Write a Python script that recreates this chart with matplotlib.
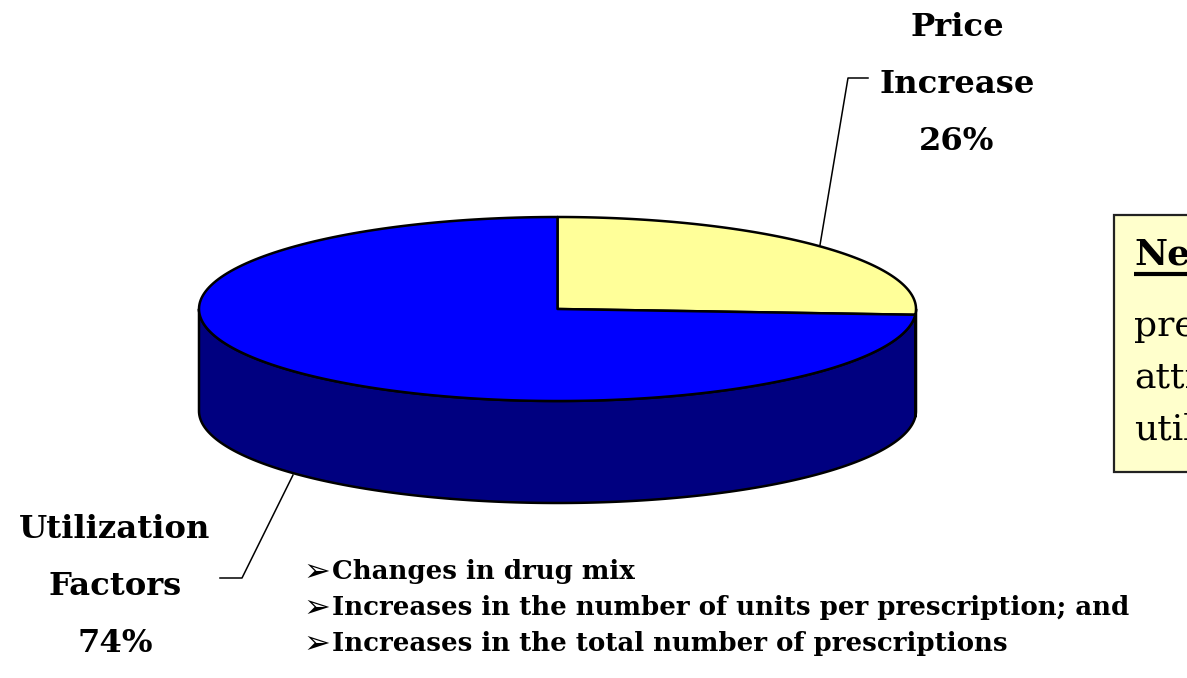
import numpy as np
import matplotlib
matplotlib.use("Agg")
import matplotlib.pyplot as plt
from matplotlib.patches import Polygon, Rectangle

# Data: share of prescription drug spending growth
categories = ["Price\nIncrease", "Utilization\nFactors"]
shares = [26, 74]
top_colors = ["#FFFF99", "#0000FF"]
side_colors = ["#80804C", "#000080"]

drivers = [
    "Changes in drug mix",
    "Increases in the number of units per prescription; and",
    "Increases in the total number of prescriptions",
]
note_lines = ["Nearly", "prescription", "attributable", "utilization"]

SERIF = ["DejaVu Serif"]

W, H = 1187, 678
fig = plt.figure(figsize=(W / 100, H / 100), dpi=100)
ax = fig.add_axes([0, 0, 1, 1])
ax.set_xlim(0, W)
ax.set_ylim(H, 0)
ax.axis("off")

# Pie geometry (screen units)
cx, cy, rx, ry, depth = 557.5, 309.0, 358.5, 92.0, 102.0


def arc(a0, a1, dy=0.0, n=200):
    t = np.radians(np.linspace(a0, a1, n))
    return np.column_stack([cx + rx * np.cos(t), cy - ry * np.sin(t) + dy])


fracs = np.array(shares, dtype=float) / np.sum(shares)
# slices run clockwise from 12 o'clock
starts = 90 - 360 * np.concatenate([[0], np.cumsum(fracs)[:-1]])
ends = starts - 360 * fracs

# side walls: only the front half (angles between -180 and 0) is visible
for s, e, col in zip(starts, ends, side_colors):
    for k in range(-1, 2):
        a_hi = min(s + 360 * k, 0)
        a_lo = max(e + 360 * k, -180)
        if a_hi > a_lo:
            top = arc(a_hi, a_lo)
            bot = arc(a_lo, a_hi, dy=depth)
            ax.add_patch(Polygon(np.vstack([top, bot]), closed=True,
                                 facecolor=col, edgecolor="black", lw=1.8,
                                 joinstyle="round", zorder=2))

# top faces
for s, e, col in zip(starts, ends, top_colors):
    pts = np.vstack([[cx, cy], arc(s, e), [cx, cy]])
    ax.add_patch(Polygon(pts, closed=True, facecolor=col, edgecolor="black",
                         lw=1.8, joinstyle="round", zorder=3))

# category labels with leader lines
label_kw = dict(family=SERIF, fontweight="bold", fontsize=23.2,
                ha="center", va="center", color="black")
label_pos = [(957, 28), (115, 530)]
for cat, val, (lx, ly) in zip(categories, shares, label_pos):
    for i, ln in enumerate(cat.split("\n") + [f"{val}%"]):
        ax.text(lx, ly + i * 56.5, ln, **label_kw)

ax.plot([820, 848, 868], [245, 78, 78], color="black", lw=1.1, zorder=4)
ax.plot([293, 242, 220], [475, 578, 578], color="black", lw=1.1, zorder=4)

# drivers of utilization
for i, line in enumerate(drivers):
    y = 572 + i * 35.5
    ax.text(303, y + 1, "\u27a2", family=["DejaVu Sans"], fontsize=23,
            ha="left", va="center", color="black")
    ax.text(332, y, line, family=SERIF, fontweight="bold", fontsize=18.7,
            ha="left", va="center", color="black")

# note box (runs past the right edge)
ax.add_patch(Rectangle((1114, 215), 200, 257, facecolor="#FFFFCC",
                       edgecolor="#222222", lw=1.6, zorder=1, clip_on=False))
ax.text(1134, 255, note_lines[0], family=SERIF, fontweight="bold",
        fontsize=26, ha="left", va="center", zorder=5)
ax.plot([1134, 1200], [274, 274], color="black", lw=3, zorder=5,
        solid_capstyle="butt")
for i, line in enumerate(note_lines[1:]):
    ax.text(1134, 326 + i * 51.5, line, family=SERIF, fontsize=26,
            ha="left", va="center", zorder=5)

fig.savefig("out.png", dpi=100)
